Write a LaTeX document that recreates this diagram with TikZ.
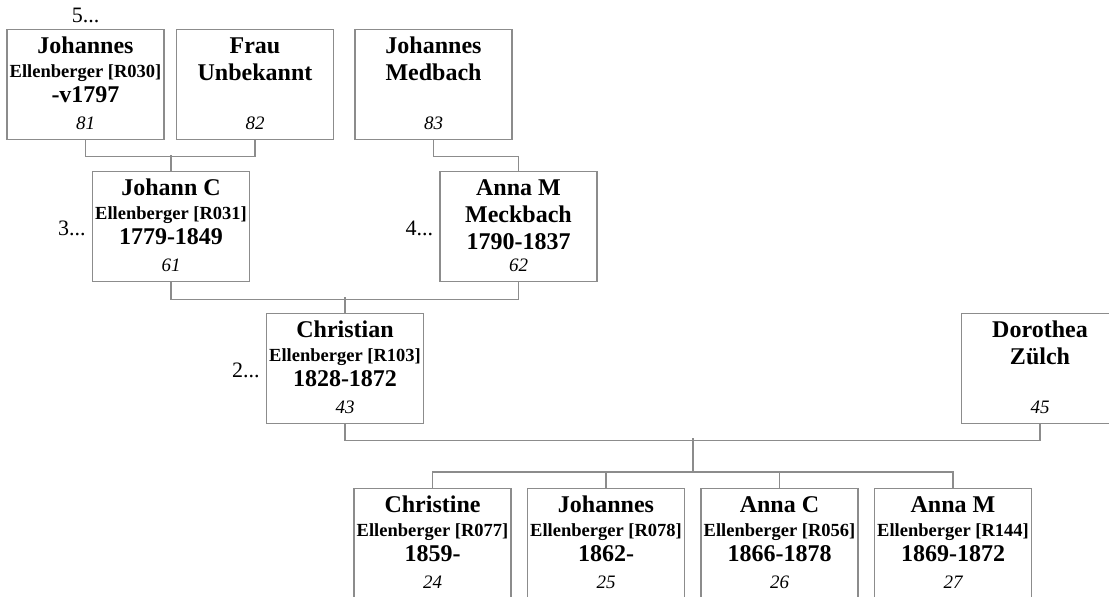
\documentclass[tikz,border=0pt]{standalone}
\usepackage{fontspec}
\setmainfont{Liberation Serif}
\usetikzlibrary{calc}
\definecolor{linegray}{RGB}{140,140,140}
\tikzset{
  pbox/.style={draw=linegray, line width=1.3pt, minimum width=157pt, minimum height=110pt, inner sep=0pt, anchor=north},
  bigline/.style={anchor=base, inner sep=0pt, font=\bfseries\fontsize{24}{26}\selectfont},
  smallline/.style={anchor=base, inner sep=0pt, font=\bfseries\fontsize{18.5}{20}\selectfont},
  surline/.style={smallline},
  nrline/.style={anchor=base, inner sep=0pt, font=\itshape\fontsize{19}{22}\selectfont},
  more/.style={inner sep=0pt, font=\fontsize{22}{24}\selectfont},
  conn/.style={draw=linegray, line width=1.3pt},
  person box/.pic={
    \tikzset{/person/.cd, #1}
    \node[pbox] (-box) at (0,0) {};
    \node[bigline] (-fn) at (0,24) {\pfore};
    \node[surline] (-sn) at (0,\psury) {\psur};
    \node[bigline] (-dt) at (0,\pdatey) {\pdates};
    \node[nrline] (-nr) at (0,100) {\pnr};
  },
  /person/.search also={/tikz},
  /person/.cd,
  forename/.store in=\pfore,
  surname/.store in=\psur,
  dates/.store in=\pdates,
  nr/.store in=\pnr,
  sur y/.store in=\psury,
  dates y/.store in=\pdatey,
  big surname/.style={/tikz/surline/.style={bigline}, /person/sur y=51, /person/dates y=78},
  forename=, surname=, dates=, nr=,
  sur y=48,
  dates y=73,
}

\begin{document}
\begin{tikzpicture}[x=1pt, y=-1pt]
  \useasboundingbox (0,0) rectangle (1109,597);
  \clip (0,0) rectangle (1109,597);

  % great-grandparents
  \pic (p81) at (85.5,29) {person box={forename=Johannes, surname={Ellenberger [R030]}, dates=-v1797, nr=81}};
  \pic (p82) at (255,29) {person box={forename=Frau, surname=Unbekannt, big surname, nr=82}};
  \pic (p83) at (433.5,29) {person box={forename=Johannes, surname=Medbach, big surname, nr=83}};

  % grandparents
  \pic (p61) at (171,171) {person box={forename=Johann C, surname={Ellenberger [R031]}, dates=1779-1849, nr=61}};
  \pic (p62) at (518.5,171) {person box={forename=Anna M, surname=Meckbach, big surname, dates=1790-1837, nr=62}};

  % parents
  \pic (p43) at (345,313) {person box={forename=Christian, surname={Ellenberger [R103]}, dates=1828-1872, nr=43}};
  \pic (p45) at (1040,313) {person box={forename=Dorothea, surname=Zülch, big surname, nr=45}};

  % children
  \pic (p24) at (432.5,488) {person box={forename=Christine, surname={Ellenberger [R077]}, dates=1859-, nr=24}};
  \pic (p25) at (606,488) {person box={forename=Johannes, surname={Ellenberger [R078]}, dates=1862-, nr=25}};
  \pic (p26) at (779.5,488) {person box={forename=Anna C, surname={Ellenberger [R056]}, dates=1866-1878, nr=26}};
  \pic (p27) at (953,488) {person box={forename=Anna M, surname={Ellenberger [R144]}, dates=1869-1872, nr=27}};

  % more ancestors
  \node[more, anchor=base] (m5) at ($(p81-box.north)+(0,-6.5)$) {5...};
  \node[more, anchor=base east] (m3) at ($(p61-box.north west)+(-6,64)$) {3...};
  \node[more, anchor=base east] (m4) at ($(p62-box.north west)+(-6,64)$) {4...};
  \node[more, anchor=base east] (m2) at ($(p43-box.north west)+(-6,64)$) {2...};

  % lines
  \draw[conn] (p81-box.south) -- ++(0,16) -| (p82-box.south);
  \draw[conn] (p61-box.north) -- ++(0,-16);
  \draw[conn] (p83-box.south) -- ++(0,16) -| (p62-box.north);
  \draw[conn] (p61-box.south) -- ++(0,17) -| (p62-box.south);
  \draw[conn] (p43-box.north) -- ++(0,-16);
  \draw[conn] (p43-box.south) -- ++(0,16) -| (p45-box.south);
  \coordinate (fam) at (693,438);
  \coordinate (kids) at (693,472);
  \draw[conn] (fam) -- (kids);
  \draw[conn] (p24-box.north) -- ++(0,-16) -| (p27-box.north);
  \draw[conn] (p25-box.north) -- ++(0,-16);
  \draw[conn] (p26-box.north) -- ++(0,-16);
\end{tikzpicture}
\end{document}
